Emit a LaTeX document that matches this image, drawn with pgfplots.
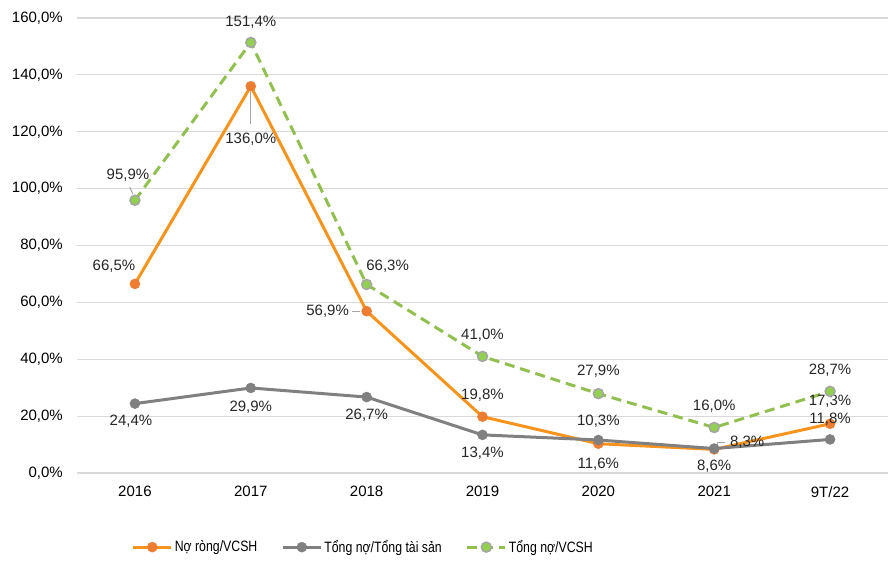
\documentclass[border=0pt]{standalone}
\usepackage{pgfplots}
\pgfplotsset{compat=1.18}
\usepackage{pgfplotstable}
\usepackage{fontspec}
\setmainfont{Liberation Sans}
\newfontfamily\narrowfont[FakeStretch=0.82]{Liberation Sans}
\definecolor{orgline}{HTML}{F7941D}
\definecolor{orgmark}{HTML}{ED7D31}
\definecolor{greyline}{HTML}{808080}
\definecolor{grnline}{HTML}{92C050}
\definecolor{grnmark}{HTML}{92D050}
\definecolor{grnedge}{HTML}{A5A5A5}
\definecolor{gridc}{HTML}{D9D9D9}

\pgfplotstableread{
x y dx dy
0 66.5 -21 18
1 136.0 0 -53
2 56.9 -39 0
3 19.8 0 21
4 10.3 0 22
5 8.3 33 7
6 17.3 0 23
}\netdebt
\pgfplotstableread{
x y dx dy
0 24.4 -4 -18
1 29.9 0 -19
2 26.7 0 -18
3 13.4 0 -18
4 11.6 0 -24
5 8.6 0 -18
6 11.8 0 20
}\debtassets
\pgfplotstableread{
x y dx dy
0 95.9 -7 25
1 151.4 0 20
2 66.3 21 18
3 41.0 0 21
4 27.9 0 22
5 16.0 0 21
6 28.7 0 21
}\debtequity

\begin{document}
\fontsize{15}{18}\selectfont
\begin{tikzpicture}
\useasboundingbox (-77pt,-88pt) rectangle (818pt,473pt);
\begin{axis}[
  at={(0pt,0pt)}, anchor=south west,
  scale only axis, width=811pt, height=455pt,
  xmin=-0.5, xmax=6.5, ymin=0, ymax=160,
  xtick={0,...,6},
  xticklabels={2016,2017,2018,2019,2020,2021,9T/22},
  ytick={0,20,...,160},
  /pgf/number format/assume math mode=true,
  yticklabel={\pgfmathprintnumber[fixed,fixed zerofill,precision=1,use comma]{\tick}\%},
  yticklabel style={inner sep=0pt, xshift=-14pt, font=\fontsize{15}{18}\selectfont},
  xticklabel style={inner sep=0pt, yshift=-13pt, font=\fontsize{15}{18}\selectfont},
  tick style={draw=none},
  axis line style={draw=none},
  ymajorgrids, grid style={gridc, line width=1.2pt},
  clip=false,
  nodes near coords={\pgfmathprintnumber[fixed,fixed zerofill,precision=1,use comma]{\pgfplotspointmeta}\%},
  visualization depends on={\thisrow{dx} \as \ldx},
  visualization depends on={\thisrow{dy} \as \ldy},
  every node near coord/.style={anchor=center, inner sep=0pt, text=black!85, font=\fontsize{15}{18}\selectfont, xshift=\ldx pt, yshift=\ldy pt},
  legend style={at={(0.353,-0.163)}, anchor=center, draw=none, fill=none,
    legend columns=3, font=\narrowfont\fontsize{15}{18}\selectfont,
    /tikz/every even column/.append style={column sep=22pt}},
  legend cell align=left,
  legend image code/.code={\draw[mark repeat=2,mark phase=2,#1] plot coordinates {(0pt,0pt) (19pt,0pt) (38pt,0pt)};},
]
\addplot[orgline, line width=3pt, mark=*, mark size=5pt, mark options={solid, fill=orgmark, draw=orgmark, line width=0.5pt}] table[x=x,y=y] {\netdebt};
\addlegendentry{Nợ ròng/VCSH}
\addplot[greyline, line width=3pt, mark=*, mark size=5pt, mark options={solid, fill=greyline, draw=greyline, line width=0.5pt}] table[x=x,y=y] {\debtassets};
\addlegendentry{Tổng nợ/Tổng tài sản}
\addplot[grnline, line width=3pt, dash pattern=on 10pt off 6pt, mark=*, mark size=5pt, mark options={solid, fill=grnmark, draw=grnedge, line width=1.5pt}] table[x=x,y=y] {\debtequity};
\addlegendentry{Tổng nợ/VCSH}
% leader lines
\draw[gray!70, line width=1pt] ([yshift=-6pt]axis cs:1,136) -- ([yshift=-38pt]axis cs:1,136);
\draw[gray!70, line width=1pt] ([xshift=-7pt]axis cs:2,56.9) -- ([xshift=-15pt]axis cs:2,56.9);
\draw[gray!70, line width=1pt] ([xshift=3pt,yshift=2pt]axis cs:5,8.3) -- ([xshift=3pt,yshift=7pt]axis cs:5,8.3) -- ([xshift=11pt,yshift=7pt]axis cs:5,8.3);
\draw[gray!70, line width=1pt] ([xshift=-2pt,yshift=6pt]axis cs:0,95.9) -- ([xshift=-5pt,yshift=13pt]axis cs:0,95.9);
\end{axis}
\end{tikzpicture}
\end{document}
